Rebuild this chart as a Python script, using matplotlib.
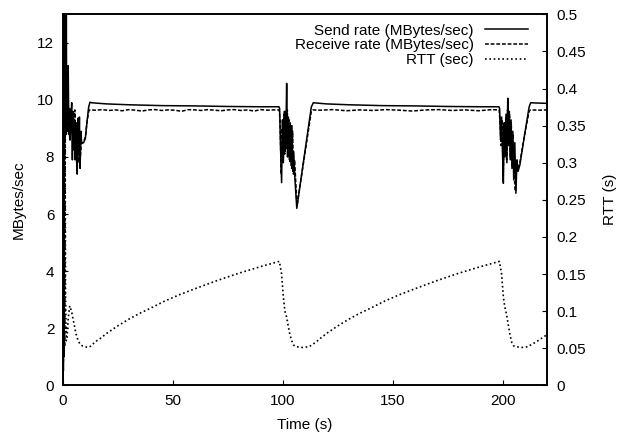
import matplotlib
matplotlib.use("Agg")
import matplotlib.pyplot as plt
from matplotlib.ticker import FuncFormatter, MultipleLocator

plt.rcParams['font.family'] = ['Liberation Sans', 'DejaVu Sans']

# ---------------- data ----------------
send_time = [0.0, 0.15, 0.3, 0.45, 0.6, 0.75, 0.9, 1.05, 1.2, 1.35,
             1.5, 1.65, 1.8, 2.0, 2.2, 2.5, 2.8, 3.1, 3.4, 3.7,
             4.1, 4.4, 4.7, 5.0, 5.3, 5.6, 5.9, 6.2, 6.6, 6.9,
             7.3, 7.6, 7.9, 8.3, 8.6, 9.5, 10.3, 11.0, 11.8, 12.4,
             13.2, 20, 30, 45, 60, 75, 90, 98.3,
             98.6, 99.0, 99.5, 99.9, 100.3, 100.7, 101.1, 101.5, 101.8, 102.2,
             102.6, 103.0, 103.4, 103.8, 104.2, 104.6, 105.0, 105.5, 106.4, 113.0,
             113.9,
             120, 130, 145, 160, 175, 190, 198.3,
             198.6, 199.0, 199.5, 200.0, 200.3, 200.7, 201.1, 201.5, 201.9, 202.3,
             202.6, 203.0, 203.4, 203.8, 204.2, 204.6, 205.0, 205.5, 206.0, 206.5,
             207.0, 207.8, 210.0, 212.0, 212.7,
             216, 220]
send_rate = [0.0, 14.0, 0.5, 14.0, 1.0, 14.0, 8.5, 14.0, 9.2, 14.0,
             9.4, 13.5, 9.0, 11.0, 9.5, 11.2, 8.8, 9.7, 8.6, 9.4,
             9.9, 7.9, 9.6, 8.3, 9.3, 7.9, 9.2, 8.0, 7.4, 9.36,
             8.1, 9.4, 7.6, 8.9, 8.48, 8.5, 8.65, 9.2, 9.75, 9.92,
             9.90, 9.86, 9.83, 9.80, 9.79, 9.77, 9.76, 9.76,
             9.7, 8.4, 7.1, 9.3, 7.8, 9.6, 8.2, 9.1, 10.58, 8.0,
             9.4, 7.9, 9.2, 7.7, 9.1, 7.5, 8.2, 7.3, 6.2, 9.75,
             9.9,
             9.86, 9.83, 9.80, 9.79, 9.77, 9.76, 9.76,
             9.7, 8.6, 9.4, 7.9, 7.08, 9.2, 8.0, 9.5, 7.8, 10.06,
             8.4, 9.6, 7.9, 9.3, 7.6, 8.9, 7.2, 8.5, 6.73, 7.9,
             7.5, 7.72, 8.8, 9.75, 9.9,
             9.89, 9.88]

recv_time = [0.0, 0.5, 1.0, 1.2, 1.4, 1.7, 2.0, 2.4, 2.8, 3.2,
             3.6, 4.0, 4.5, 5.0, 5.5, 6.0, 6.5, 7.0, 7.5, 8.0,
             8.5, 9.0, 9.6, 10.3, 11.0, 11.8, 12.3,
             15, 18, 21, 24, 27, 30, 33, 36, 39, 42,
             45, 48, 51, 54, 57, 60, 63, 66, 69, 72,
             75, 78, 81, 84, 87, 90, 93, 96, 98.4,
             98.8, 99.3, 99.7, 100.1, 100.5, 100.9, 101.3, 101.7, 102.1, 102.5,
             102.9, 103.3, 103.7, 104.1, 104.5, 104.9, 105.4, 106.5, 113.0, 113.6,
             117, 123, 129, 135, 141, 147, 153, 159, 165, 171,
             177, 183, 189, 195, 198.4,
             198.8, 199.3, 199.8, 200.2, 200.6, 201.0, 201.4, 201.8, 202.2, 202.7,
             203.1, 203.5, 203.9, 204.3, 204.7, 205.2, 205.8, 206.3, 207.0, 207.8,
             210.0, 212.0, 212.6,
             216, 220]
recv_rate = [0.0, 1.3, 1.4, 9.0, 9.6, 8.8, 9.65, 8.9, 9.5, 8.6,
             9.65, 8.8, 9.4, 8.2, 9.65, 8.0, 9.2, 7.8, 9.0, 8.0,
             8.5, 8.5, 8.55, 8.7, 9.2, 9.6, 9.65,
             9.64, 9.66, 9.63, 9.65, 9.62, 9.66, 9.64, 9.61, 9.65, 9.66,
             9.63, 9.65, 9.64, 9.60, 9.66, 9.65, 9.63, 9.66, 9.64, 9.62,
             9.65, 9.66, 9.63, 9.65, 9.61, 9.66, 9.64, 9.65, 9.65,
             9.3, 7.4, 9.0, 7.9, 9.5, 8.1, 9.6, 8.3, 9.65, 8.1,
             9.3, 7.8, 9.1, 7.6, 8.9, 7.4, 7.9, 6.3, 9.6, 9.65,
             9.64, 9.66, 9.62, 9.65, 9.63, 9.66, 9.64, 9.61, 9.65, 9.66,
             9.63, 9.65, 9.62, 9.66, 9.65,
             9.2, 8.4, 9.3, 7.2, 9.0, 8.1, 9.4, 7.9, 9.65, 8.5,
             9.5, 8.0, 9.2, 7.7, 8.8, 7.3, 6.8, 7.8, 7.6, 7.8,
             8.8, 9.6, 9.65,
             9.64, 9.65]

rtt_time = [0.0, 0.4, 0.7, 1.0, 1.3, 1.6, 2.0, 2.5, 3.2, 4.0,
            5.0, 6.0, 7.0, 8.0, 9.0, 10.0, 11.5, 13.0, 14.5, 17,
            20, 25, 30, 35, 40, 46, 53, 60, 70, 80,
            90, 98.5, 99.5, 100.3, 101.0, 101.8, 102.5, 103.3, 104.1, 105.0,
            106.0, 109, 112, 113.5, 115, 117, 120, 125, 130, 135,
            140, 146, 153, 160, 170, 180, 190, 198.5, 199.5, 200.3,
            201.0, 201.8, 202.5, 203.3, 204.1, 205.0, 206.0, 209, 211.5, 213,
            215, 217, 220]
rtt_sec = [0.05, 0.06, 0.25, 0.45, 0.12, 0.06, 0.065, 0.09, 0.107, 0.10,
           0.085, 0.07, 0.06, 0.055, 0.053, 0.052, 0.051, 0.053, 0.058, 0.063,
           0.070, 0.080, 0.089, 0.097, 0.104, 0.113, 0.122, 0.130, 0.141, 0.151,
           0.160, 0.167, 0.150, 0.119, 0.100, 0.092, 0.080, 0.068, 0.060, 0.054,
           0.052, 0.051, 0.052, 0.055, 0.058, 0.063, 0.070, 0.080, 0.089, 0.097,
           0.104, 0.113, 0.122, 0.130, 0.141, 0.151, 0.160, 0.167, 0.150, 0.119,
           0.105, 0.095, 0.082, 0.068, 0.058, 0.053, 0.052, 0.051, 0.052, 0.055,
           0.058, 0.062, 0.068]

assert len(send_time) == len(send_rate)
assert len(recv_time) == len(recv_rate)
assert len(rtt_time) == len(rtt_sec)

labels = ["Send rate (MBytes/sec)", "Receive rate (MBytes/sec)", "RTT (sec)"]

# ---------------- figure ----------------
fig = plt.figure(figsize=(6.23, 4.33), dpi=100)
ax = fig.add_axes([62.7 / 623, 1 - 385.3 / 433, (546.7 - 62.7) / 623, (385.3 - 14.3) / 433])
ax2 = ax.twinx()

l1, = ax.plot(send_time, send_rate, color='black', lw=1.1, ls='-')
l2, = ax.plot(recv_time, recv_rate, color='black', lw=1.1, ls=(0, (2.5, 1.2)))
l3, = ax2.plot(rtt_time, rtt_sec, color='black', lw=1.2, ls=(0, (1, 1.6)))

ax.set_xlim(0, 220)
ax.set_ylim(0, 13)
ax2.set_ylim(0, 0.5)

ax.xaxis.set_major_locator(MultipleLocator(50))
ax.yaxis.set_major_locator(MultipleLocator(2))
ax2.yaxis.set_major_locator(MultipleLocator(0.05))
ax2.yaxis.set_major_formatter(FuncFormatter(lambda v, p: '%g' % round(v, 3)))

fs = 11
ax.tick_params(axis='x', direction='in', length=3.6, width=0.8, labelsize=fs, pad=6.5,
               top=False, bottom=True)
ax.tick_params(axis='y', direction='in', length=3.6, width=0.8, labelsize=fs, pad=6,
               left=True, right=False)
ax2.tick_params(axis='y', direction='in', length=3.6, width=0.8, labelsize=fs, pad=7,
                right=True, left=False)

for a in (ax, ax2):
    for s in a.spines.values():
        s.set_linewidth(1.2)

ax.set_xlabel("Time (s)", fontsize=fs, labelpad=7)
ax.set_ylabel("MBytes/sec", fontsize=fs, labelpad=8.5)
ax2.set_ylabel("RTT (s)", fontsize=fs, labelpad=12)

leg = ax.legend([l1, l2, l3], labels, loc='upper right',
                bbox_to_anchor=(0.9614, 0.975), frameon=False, markerfirst=False,
                fontsize=fs, handlelength=2.8, handletextpad=0.75,
                labelspacing=0.05, borderpad=0, borderaxespad=0)

fig.savefig("out.png", dpi=100)
